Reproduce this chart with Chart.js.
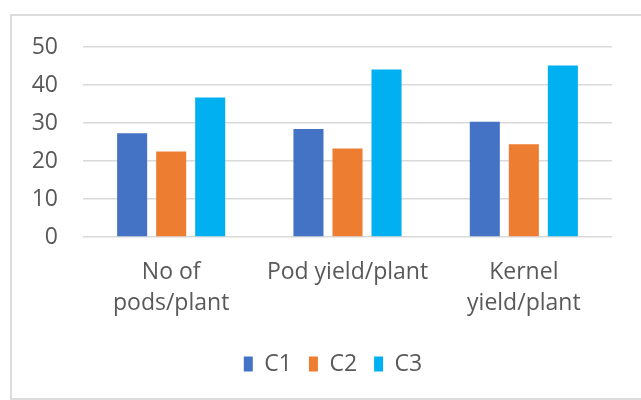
<!DOCTYPE html>
<html lang="en">
<head>
    <meta charset="UTF-8">
    <title>C1 C2 C3 yield chart</title>
    <script src="https://cdn.jsdelivr.net/npm/chart.js"></script>
    <style>
        html, body { margin: 0; padding: 0; background: #fff; overflow: hidden; }
        #wrap { position: relative; width: 641px; height: 400px; overflow: hidden; }
        #frame { position: absolute; left: 10px; top: 14px; width: 640px; height: 382px; border: 2px solid #dcdcdc; }
        #myChart { position: absolute; left: 0; top: 0; }
    </style>
</head>
<body>
    <div id="wrap">
        <div id="frame"></div>
        <canvas id="myChart" width="641" height="400"></canvas>
    </div>

    <script>
        // Dati del grafico
        const categories = [['No of', 'pods/plant'], 'Pod yield/plant', ['Kernel', 'yield/plant']];
        const c1 = [27.3, 28.4, 30.3];
        const c2 = [22.5, 23.3, 24.4];
        const c3 = [36.7, 44.1, 45.1];
        const yTicks = [0, 10, 20, 30, 40, 50];

        const grigio = '#595959';
        const fontBase = { family: "'Open Sans', 'Noto Sans', sans-serif", size: 23 };

        const ctx = document.getElementById('myChart').getContext('2d');
        const myChart = new Chart(ctx, {
            type: 'bar',
            data: {
                labels: categories,
                datasets: [
                    { label: 'C1', data: c1, backgroundColor: '#4472C4' },
                    { label: 'C2', data: c2, backgroundColor: '#ED7D31' },
                    { label: 'C3', data: c3, backgroundColor: '#00B0F0' }
                ]
            },
            options: {
                responsive: false,
                animation: false,
                categoryPercentage: 0.664,
                barPercentage: 0.77,
                layout: { padding: { top: 47, left: 25, right: 0, bottom: 14.5 } },
                plugins: {
                    legend: {
                        position: 'bottom',
                        labels: {
                            boxWidth: 9,
                            boxHeight: 15,
                            padding: 17,
                            color: grigio,
                            font: fontBase
                        }
                    },
                    tooltip: { enabled: false }
                },
                scales: {
                    x: {
                        grid: { display: false, drawTicks: false },
                        border: { display: false },
                        ticks: {
                            color: grigio,
                            font: { ...fontBase, lineHeight: 1.36 },
                            padding: 20,
                            maxRotation: 0
                        },
                        afterFit: s => { s.height = 98.5; }
                    },
                    y: {
                        min: 0,
                        max: 50,
                        afterBuildTicks: s => { s.ticks = yTicks.map(v => ({ value: v })); },
                        grid: { color: '#d9d9d9', lineWidth: 1.5, drawTicks: false },
                        border: { display: false },
                        ticks: { color: grigio, font: fontBase, padding: 25 },
                        afterFit: s => { s.width = 58; }
                    },
                    y2: {
                        position: 'right',
                        grid: { display: false },
                        border: { display: false },
                        ticks: { display: false },
                        afterFit: s => { s.width = 29; }
                    }
                }
            }
        });
    </script>
</body>
</html>
